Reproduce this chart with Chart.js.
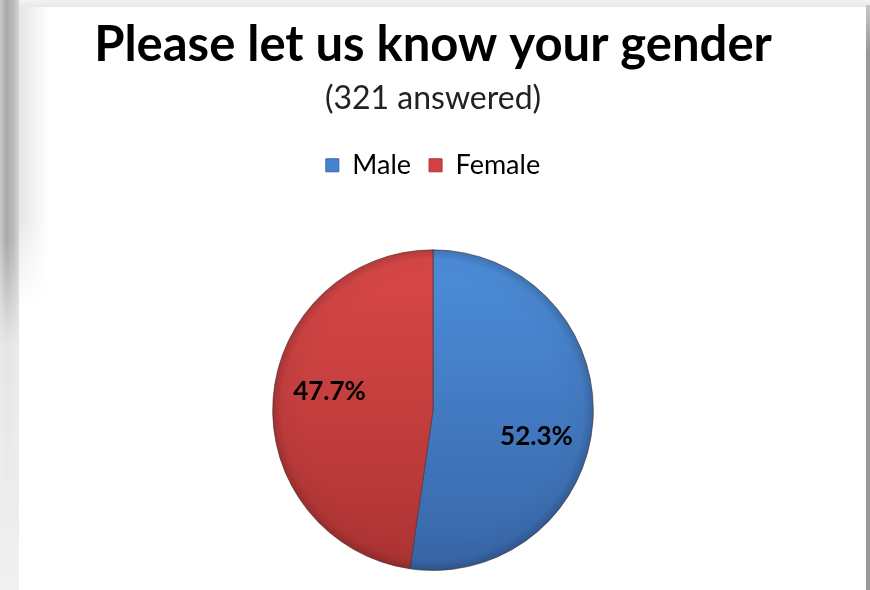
<!DOCTYPE html>
<html>
<head>
<meta charset="utf-8">
<script src="https://cdn.jsdelivr.net/npm/chart.js@4/dist/chart.umd.min.js"></script>
<style>
  html, body { margin: 0; padding: 0; }
  body { width: 870px; height: 590px; position: relative; overflow: hidden; background: #efefef; }
  #leftShadow { position: absolute; left: 0; top: 0; width: 19px; height: 590px;
    background: linear-gradient(to right, #c9c9c9 0%, #a9a9a9 35%, #bdbdbd 75%, #d6d6d6 100%); }
  #leftFade { position: absolute; left: 0; top: 240px; width: 19px; height: 350px;
    background: linear-gradient(to bottom, rgba(239,239,239,0) 0%, rgba(239,239,239,0.85) 30%, #f0f0f0 100%); }
  #topStrip { position: absolute; left: 0; top: 0; width: 870px; height: 7px;
    background: linear-gradient(to bottom, #f2f2f2, #e8e8e8); }
  #rightStrip { position: absolute; left: 866px; top: 5px; width: 4px; height: 585px;
    background: linear-gradient(to bottom, #c8c8c8 0%, #999 8%, #9a9a9a 100%); }
  #panel { position: absolute; left: 19px; top: 7px; width: 847px; height: 583px; background: #fff; }
  #innerShadow { position: absolute; left: 19px; top: 7px; width: 30px; height: 300px;
    background: linear-gradient(to right, rgba(0,0,0,0.10), rgba(0,0,0,0));
    -webkit-mask-image: linear-gradient(to bottom, #000 0%, #000 70%, transparent 100%);
    mask-image: linear-gradient(to bottom, #000 0%, #000 70%, transparent 100%); }
  #wrap { position: absolute; left: 19px; top: 7px; width: 847px; height: 583px; }
</style>
</head>
<body>
<div id="topStrip"></div>
<div id="leftShadow"></div>
<div id="leftFade"></div>
<div id="rightStrip"></div>
<div id="panel"></div>
<div id="innerShadow"></div>
<div id="wrap"><canvas id="c" width="847" height="583"></canvas></div>
<script>
// ---- data ----
const titleText = 'Please let us know your gender';
const subtitleText = '(321 answered)';
const categories = ['Male', 'Female'];
const percentages = [52.3, 47.7];
const labelTexts = ['52.3%', '47.7%'];
const baseColors = ['#4683cf', '#d24242'];
const topColors = ['#4d8edb', '#db4848'];
const bottomColors = ['#3866a8', '#ad3333'];

// spacer box between legend and pie
const spacerPlugin = {
  id: 'spacer',
  beforeInit(chart) {
    const box = {
      position: 'top', weight: 900, fullSize: true, options: {},
      top: 0, left: 0, right: 0, bottom: 0, width: 0, height: 0,
      isHorizontal() { return true; },
      update(maxWidth) { this.width = maxWidth; this.height = 60.5; return this.height; },
      draw() {}
    };
    Chart.layouts.addBox(chart, box);
  }
};

// bevel ring + data labels
const labelAngleShift = 8 * Math.PI / 180;
const decoPlugin = {
  id: 'deco',
  afterDatasetsDraw(chart) {
    const ctx = chart.ctx;
    const meta = chart.getDatasetMeta(0);
    if (!meta.data.length) return;
    const a0 = meta.data[0];
    const cx = a0.x, cy = a0.y, r = a0.outerRadius;
    ctx.save();
    const g = ctx.createRadialGradient(cx, cy, r * 0.80, cx, cy, r);
    g.addColorStop(0, 'rgba(0,0,0,0)');
    g.addColorStop(0.7, 'rgba(0,0,0,0.03)');
    g.addColorStop(1, 'rgba(0,0,0,0.18)');
    ctx.beginPath();
    ctx.arc(cx, cy, r, 0, Math.PI * 2);
    ctx.fillStyle = g;
    ctx.fill();
    ctx.restore();

    ctx.save();
    ctx.font = 'bold 26px Lato, "Open Sans", sans-serif';
    ctx.fillStyle = '#000';
    ctx.textAlign = 'center';
    ctx.textBaseline = 'middle';
    meta.data.forEach((arc, i) => {
      const mid = (arc.startAngle + arc.endAngle) / 2 + labelAngleShift;
      const d = arc.outerRadius * 0.66;
      ctx.fillText(labelTexts[i], arc.x + Math.cos(mid) * d, arc.y + Math.sin(mid) * d + 4);
    });
    ctx.restore();
  }
};

function sliceFill(context) {
  const i = context.dataIndex;
  const chart = context.chart;
  const area = chart.chartArea;
  if (!area) return baseColors[i];
  const g = chart.ctx.createLinearGradient(0, area.top, 0, area.bottom);
  g.addColorStop(0, topColors[i]);
  g.addColorStop(1, bottomColors[i]);
  return g;
}

new Chart(document.getElementById('c'), {
  type: 'pie',
  data: {
    labels: categories,
    datasets: [{
      data: percentages,
      backgroundColor: sliceFill,
      borderColor: 'rgba(70,40,40,0.55)',
      borderWidth: 1
    }]
  },
  options: {
    responsive: false,
    animation: false,
    layout: { padding: { left: 0, right: 19, top: 0, bottom: 19 } },
    plugins: {
      title: {
        display: true, text: titleText, color: '#000',
        font: { family: 'Lato, "Open Sans", sans-serif', size: 49, weight: 'bold', lineHeight: 1.2 },
        padding: { top: 9, bottom: 0 }
      },
      subtitle: {
        display: true, text: subtitleText, color: '#222',
        font: { family: 'Lato, "Open Sans", sans-serif', size: 32, weight: 'normal', lineHeight: 1.2 },
        padding: { top: 5, bottom: 15.6 }
      },
      legend: {
        display: true, position: 'top',
        labels: {
          color: '#222', boxWidth: 13, boxHeight: 13, padding: 18,
          font: { family: 'Lato, "Open Sans", sans-serif', size: 27 },
          generateLabels(chart) {
            return categories.map((c, i) => ({
              text: c, fillStyle: baseColors[i], strokeStyle: bottomColors[i], lineWidth: 1,
              hidden: false, index: i
            }));
          }
        }
      },
      tooltip: { enabled: false }
    }
  },
  plugins: [spacerPlugin, decoPlugin]
});
</script>
</body>
</html>
